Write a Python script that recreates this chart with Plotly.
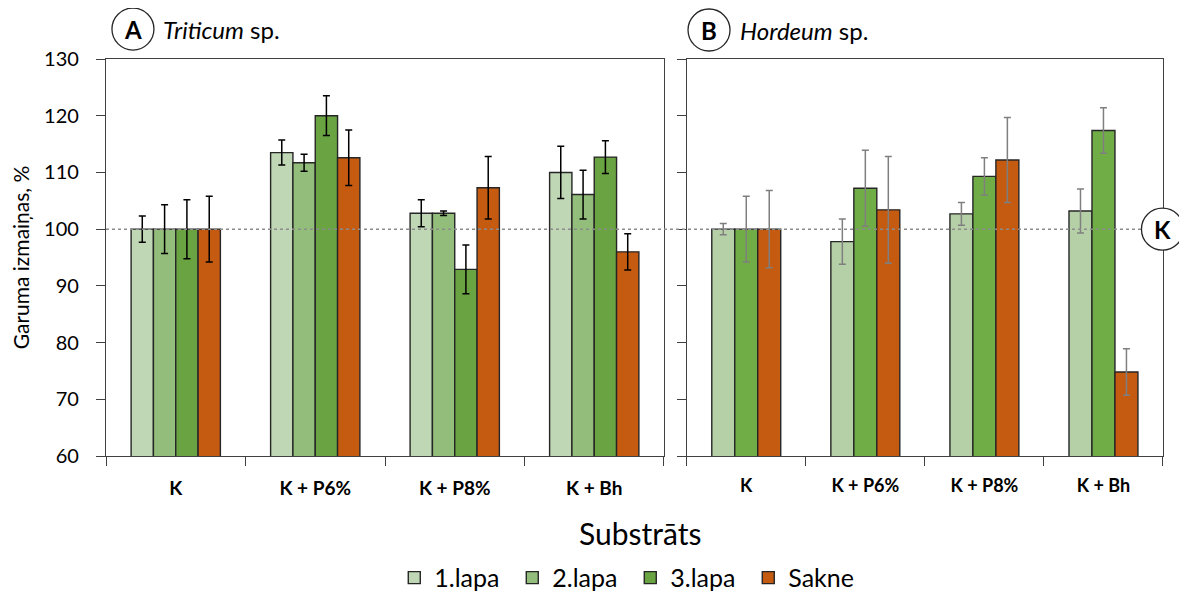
import plotly.graph_objects as go

categories = ["K", "K + P6%", "K + P8%", "K + Bh"]
series_names = ["1.lapa", "2.lapa", "3.lapa", "Sakne"]

# Panel A: Triticum sp.
a_lapa1 = [100.0, 113.5, 102.8, 110.0]
a_lapa1_err = [2.3, 2.2, 2.4, 4.6]
a_lapa2 = [100.0, 111.7, 102.8, 106.1]
a_lapa2_err = [4.3, 1.5, 0.4, 4.3]
a_lapa3 = [100.0, 120.0, 92.9, 112.7]
a_lapa3_err = [5.2, 3.5, 4.3, 2.9]
a_sakne = [100.0, 112.6, 107.3, 96.0]
a_sakne_err = [5.8, 4.9, 5.5, 3.2]

# Panel B: Hordeum sp.
b_lapa1 = [100.0, 97.8, 102.7, 103.2]
b_lapa1_err = [1.0, 4.0, 2.0, 3.9]
b_lapa3 = [100.0, 107.2, 109.3, 117.4]
b_lapa3_err = [5.8, 6.7, 3.3, 4.0]
b_sakne = [100.0, 103.4, 112.2, 74.8]
b_sakne_err = [6.8, 9.4, 7.5, 4.1]

y_ticks = [60, 70, 80, 90, 100, 110, 120, 130]

FONT = "Lato"
LINE = "#404040"

colors_a = ["#BFD7B4", "#93BD7B", "#6AA342", "#C55A11"]
colors_b = ["#B5D0A7", "#70AD47", "#C55A11"]

fig = go.Figure()

a_vals = [(a_lapa1, a_lapa1_err), (a_lapa2, a_lapa2_err), (a_lapa3, a_lapa3_err), (a_sakne, a_sakne_err)]
wa = 0.16
for i, (vals, errs) in enumerate(a_vals):
    fig.add_trace(go.Bar(
        x=categories, y=vals, name=series_names[i], legendgroup=series_names[i],
        marker=dict(color=colors_a[i], line=dict(color="#262626", width=1.4)),
        width=wa, offset=-2 * wa + i * wa,
        error_y=dict(type="data", array=errs, color="#000000", thickness=1.5, width=3.5),
        xaxis="x", yaxis="y", showlegend=True,
    ))

b_vals = [(b_lapa1, b_lapa1_err, 0), (b_lapa3, b_lapa3_err, 2), (b_sakne, b_sakne_err, 3)]
wb = 0.193
for j, (vals, errs, si) in enumerate(b_vals):
    fig.add_trace(go.Bar(
        x=categories, y=vals, name=series_names[si], legendgroup=series_names[si],
        marker=dict(color=colors_b[j], line=dict(color="#262626", width=1.4)),
        width=wb, offset=-1.5 * wb + j * wb,
        error_y=dict(type="data", array=errs, color="#7F7F7F", thickness=1.5, width=3.5),
        xaxis="x2", yaxis="y2", showlegend=False,
    ))

axis_common = dict(
    showline=True, linecolor=LINE, linewidth=1.3, mirror=True,
    ticks="outside", ticklen=9, tickcolor=LINE, tickwidth=1.3,
    showgrid=False, zeroline=False,
)

fig.update_layout(
    width=1179, height=591,
    margin=dict(l=98, r=24, t=51, b=143, autoexpand=False),
    paper_bgcolor="white", plot_bgcolor="white",
    barmode="overlay",
    font=dict(family=FONT, color="#000000"),
    xaxis=dict(domain=[0, 0.5279], type="category", tickson="boundaries",
               tickfont=dict(size=19, weight="bold"), ticklabelstandoff=15,
               automargin=False, **axis_common),
    xaxis2=dict(domain=[0.5494, 1.0], type="category", tickson="boundaries",
                tickfont=dict(size=18, weight="bold"), ticklabelstandoff=13,
                anchor="y2", automargin=False, **axis_common),
    yaxis=dict(range=[60, 130], tickvals=y_ticks, tickfont=dict(size=20),
               ticklabelstandoff=13, automargin=False,
               title=dict(text="Garuma izmaiņas, %", font=dict(size=21), standoff=12),
               **axis_common),
    yaxis2=dict(range=[60, 130], tickvals=y_ticks, showticklabels=False,
                anchor="x2", matches="y", automargin=False, **axis_common),
    legend=dict(orientation="h", x=0.496, xanchor="center", y=-0.307, yanchor="middle",
                font=dict(size=25), traceorder="normal", itemwidth=30,
                entrywidth=73, entrywidthmode="pixels",
                bgcolor="rgba(0,0,0,0)"),
)

# x-axis title (shared)
fig.add_annotation(text="Substrāts", xref="paper", yref="paper", x=0.505, y=-0.194,
                   showarrow=False, font=dict(size=30), yanchor="middle")

# reference dotted line at 100
fig.add_shape(type="line", xref="paper", yref="y", x0=0, x1=0.985, y0=100, y1=100,
              line=dict(color="#8C8C8C", width=1.5, dash="dot"), layer="above")

def circle_label(xp, yref, yv, letter):
    fig.add_shape(type="circle", xref="paper", yref=yref, xsizemode="pixel", ysizemode="pixel",
                  xanchor=xp, yanchor=yv, x0=-21, x1=21, y0=-21, y1=21,
                  line=dict(color="#262626", width=1.3), fillcolor="white", layer="above")
    fig.add_annotation(text="<b>%s</b>" % letter, xref="paper", yref=yref, x=xp, y=yv,
                       showarrow=False, font=dict(size=24), xanchor="center", yanchor="middle")

circle_label(0.0255, "paper", 1.0755, "A")
circle_label(0.5705, "paper", 1.073, "B")
circle_label(0.9995, "y", 100, "K")

fig.add_annotation(text="<i>Triticum</i> sp.", xref="paper", yref="paper", x=0.052, y=1.0755,
                   showarrow=False, font=dict(size=24), xanchor="left", yanchor="middle")
fig.add_annotation(text="<i>Hordeum</i> sp.", xref="paper", yref="paper", x=0.598, y=1.073,
                   showarrow=False, font=dict(size=24), xanchor="left", yanchor="middle")

fig.write_html("out.html")
